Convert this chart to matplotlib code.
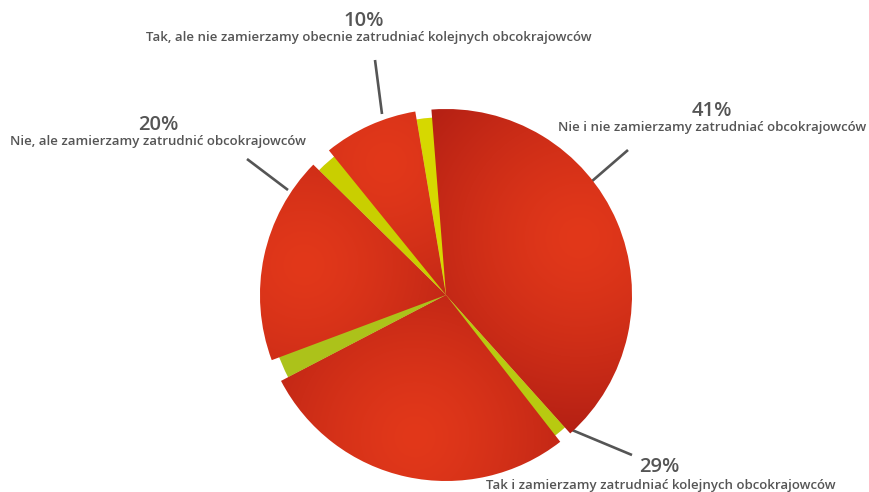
import numpy as np
import matplotlib
matplotlib.use("Agg")
import matplotlib.pyplot as plt
from matplotlib.colors import to_rgb

# ---- data ----
categories = [
    "Nie i nie zamierzamy zatrudniać obcokrajowców",
    "Tak i zamierzamy zatrudniać kolejnych obcokrajowców",
    "Nie, ale zamierzamy zatrudnić obcokrajowców",
    "Tak, ale nie zamierzamy obecnie zatrudniać kolejnych obcokrajowców",
]
values = [41, 29, 20, 10]
pct_labels = ["41%", "29%", "20%", "10%"]

# ---- style / layout ----
W, H = 869, 492
cx, cy = 446, H - 295
R_red = 186
R_yel = 178
start_angle = 99.5
gaps = [5, 4, 7, 6.5]                 # degrees of the green base left visible
explode = [0.01, 0.01, 0.025, 0.045]
yellow_cols = ["#d6d800", "#b8ca10", "#acc21a", "#c9cf00"]
bright = np.array(to_rgb("#e2381a"))
dark = np.array(to_rgb("#b42014"))
text_col = "#555555"
line_col = "#555555"

# label layout (image px, y down)
pct_pos = [(712, 111), (659, 467), (158, 124.5), (364, 20.5)]
desc_pos = [(712, 128), (661, 486), (158, 141.5), (369, 37.5)]
lines = [((628, 150), (591, 182)), ((572, 430), (632, 455)),
         ((247, 159), (288, 190)), ((375, 60), (382, 114))]

plt.rcParams["font.family"] = ["Open Sans", "DejaVu Sans"]

fig = plt.figure(figsize=(W / 100, H / 100), dpi=100)
ax = fig.add_axes([0, 0, 1, 1])

# green base pie
base, _ = ax.pie(values, startangle=start_angle, counterclock=False,
                 radius=R_yel, center=(cx, cy), colors=yellow_cols,
                 wedgeprops=dict(linewidth=0))

# red pie (slightly exploded and narrowed)
reds, _ = ax.pie(values, startangle=start_angle, counterclock=False,
                 radius=R_red, center=(cx, cy), explode=explode,
                 colors=["#d02a16"] * len(values),
                 wedgeprops=dict(linewidth=0))

ax.set_xlim(0, W)
ax.set_ylim(0, H)
ax.set_aspect("equal")
ax.axis("off")

yy, xx = np.mgrid[0:H, 0:W] + 0.5
for w, g in zip(reds, gaps):
    w.set_theta2(w.theta2 - g)
    mid = np.deg2rad((w.theta1 + w.theta2) / 2)
    wc = w.center
    fx = wc[0] + 0.78 * R_red * np.cos(mid)
    fy = wc[1] + 0.78 * R_red * np.sin(mid)
    d = np.hypot(xx - fx, yy - fy) / R_red
    t = np.clip(d / 1.05, 0, 1) ** 1.4
    img = bright[None, None, :] * (1 - t[..., None]) + dark[None, None, :] * t[..., None]
    im = ax.imshow(img, extent=(0, W, 0, H), origin="lower", zorder=2,
                   interpolation="bilinear")
    im.set_clip_path(w)
    w.set_facecolor("none")
    w.set_zorder(3)

ax.set_xlim(0, W)
ax.set_ylim(0, H)

for (p0, p1) in lines:
    ax.plot([p0[0], p1[0]], [H - p0[1], H - p1[1]], color=line_col, lw=1.9,
            solid_capstyle="butt", zorder=1)

for lab, cat, pp, dp in zip(pct_labels, categories, pct_pos, desc_pos):
    ax.text(pp[0], H - pp[1], lab, ha="center", va="center", fontsize=14.5,
            fontweight="semibold", color=text_col, zorder=5)
    ax.text(dp[0], H - dp[1], cat, ha="center", va="center", fontsize=9.5,
            fontweight="semibold", color=text_col, zorder=5)

fig.savefig("out.png", dpi=100, facecolor="white")
